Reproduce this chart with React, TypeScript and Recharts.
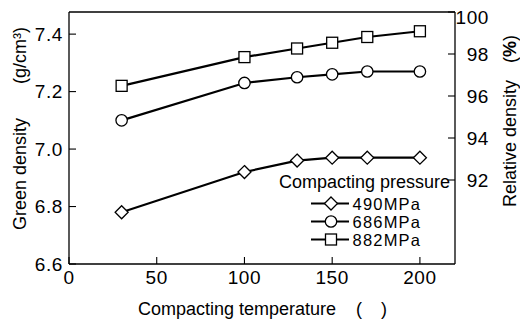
import React from 'react';
import { LineChart, Line, XAxis, YAxis, Legend, Label } from 'recharts';

const temperatures = [30, 100, 130, 150, 170, 200];
const density490 = [6.78, 6.92, 6.96, 6.97, 6.97, 6.97];
const density686 = [7.10, 7.23, 7.25, 7.26, 7.27, 7.27];
const density882 = [7.22, 7.32, 7.35, 7.37, 7.39, 7.41];
const xTicks = [0, 50, 100, 150, 200];
const leftTicks = [6.6, 6.8, 7.0, 7.2, 7.4];
const rightTicks = [92, 94, 96, 98, 100];
const seriesNames = ['490MPa', '686MPa', '882MPa'];
const legendTitle = 'Compacting pressure';

const FONT = '"Liberation Sans", Arial, sans-serif';

const data = temperatures.map((t, i) => ({
  t,
  p490: density490[i],
  p686: density686[i],
  p882: density882[i],
}));

const series = [
  { key: 'p490', name: seriesNames[0], kind: 'diamond' },
  { key: 'p686', name: seriesNames[1], kind: 'circle' },
  { key: 'p882', name: seriesNames[2], kind: 'square' },
];

const Marker = ({ kind, cx, cy }: { kind: string; cx: number; cy: number }) => {
  if (cx == null || cy == null) return null;
  if (kind === 'diamond')
    return (
      <polygon
        points={`${cx},${cy - 6.5} ${cx + 6.5},${cy} ${cx},${cy + 6.5} ${cx - 6.5},${cy}`}
        fill="#fff"
        stroke="#000"
        strokeWidth={1.3}
      />
    );
  if (kind === 'circle') return <circle cx={cx} cy={cy} r={5.7} fill="#fff" stroke="#000" strokeWidth={1.3} />;
  return <rect x={cx - 5.5} y={cy - 5.5} width={11} height={11} fill="#fff" stroke="#000" strokeWidth={1.3} />;
};

const LegendContent = (props: any) => {
  const payload = props.payload || [];
  return (
    <svg width={190} height={85} style={{ overflow: 'visible', display: 'block' }}>
      <text x={182} y={14} textAnchor="end" dominantBaseline="central" fontSize={18} fontFamily={FONT} fill="#000">
        {legendTitle}
      </text>
      {series.map((s, i) => {
        const entry = payload.find((p: any) => p.dataKey === s.key);
        const y = 35.5 + i * 18;
        return (
          <g key={s.key}>
            <line x1={43} x2={81} y1={y} y2={y} stroke="#000" strokeWidth={2.2} />
            <Marker kind={s.kind} cx={63} cy={y} />
            <text x={84.5} y={y} dominantBaseline="central" fontSize={16.5} letterSpacing={1.2} fontFamily={FONT} fill="#000">
              {entry ? entry.value : s.name}
            </text>
          </g>
        );
      })}
    </svg>
  );
};

const RightTick = (props: any) => {
  const { x, y, payload } = props;
  return (
    <text x={x + 34} y={y} dy="0.36em" textAnchor="end" fontSize={19} letterSpacing={0.6} fontFamily={FONT} fill="#000">
      {payload.value}
    </text>
  );
};

const tickStyle = { fontSize: 19, fill: '#000', fontFamily: FONT, letterSpacing: 0.6 };

export default function App() {
  return (
    <LineChart width={520} height={318} data={data} margin={{ top: 3, right: 0, bottom: 0, left: 0 }}>
      <XAxis
        xAxisId="bottom"
        dataKey="t"
        type="number"
        domain={[0, 220]}
        ticks={xTicks}
        height={62}
        tickSize={-7}
        tickMargin={14}
        tick={tickStyle}
        axisLine={{ stroke: '#000', strokeWidth: 1.3 }}
        tickLine={{ stroke: '#000', strokeWidth: 1.1 }}
      >
        <Label
          content={() => (
            <g fontFamily={FONT} fontSize={18} fill="#000">
              <text x={130} y={301} dominantBaseline="central">Compacting temperature</text>
              <text x={348} y={301} dominantBaseline="central">(</text>
              <text x={373} y={301} dominantBaseline="central">)</text>
            </g>
          )}
        />
      </XAxis>
      <XAxis
        xAxisId="top"
        orientation="top"
        dataKey="t"
        type="number"
        domain={[0, 220]}
        ticks={xTicks}
        height={1}
        tickSize={-7}
        tick={false}
        axisLine={{ stroke: '#000', strokeWidth: 1.3 }}
        tickLine={{ stroke: '#000', strokeWidth: 1.1 }}
      />
      <YAxis
        yAxisId="left"
        type="number"
        domain={[6.6, 7.477]}
        ticks={leftTicks}
        allowDataOverflow
        width={61}
        tickSize={-7}
        tickMargin={13}
        tick={tickStyle}
        tickFormatter={(v: number) => v.toFixed(1)}
        axisLine={{ stroke: '#000', strokeWidth: 1.3 }}
        tickLine={{ stroke: '#000', strokeWidth: 1.1 }}
      >
        <Label
          content={() => (
            <g fontFamily={FONT} fontSize={18} fill="#000">
              <text x={12} y={222} transform="rotate(-90 12 222)" dominantBaseline="central">Green density</text>
              <text x={12} y={76} transform="rotate(-90 12 76)" dominantBaseline="central">(g/cm³)</text>
            </g>
          )}
        />
      </YAxis>
      <YAxis
        yAxisId="right"
        orientation="right"
        type="number"
        domain={[88, 100]}
        ticks={rightTicks}
        allowDataOverflow
        width={73}
        tickSize={-7}
        tickMargin={7}
        tick={<RightTick />}
        axisLine={{ stroke: '#000', strokeWidth: 1.3 }}
        tickLine={{ stroke: '#000', strokeWidth: 1.1 }}
      >
        <Label
          content={() => (
            <g fontFamily={FONT} fontSize={18} fill="#000">
              <text x={502} y={199} transform="rotate(-90 502 199)" dominantBaseline="central">Relative density</text>
              <text x={502} y={55} transform="rotate(-90 502 55)" dominantBaseline="central">
                (<tspan fontWeight="bold">%</tspan>)
              </text>
            </g>
          )}
        />
      </YAxis>
      <Legend
        layout="horizontal"
        verticalAlign="middle"
        align="center"
        content={<LegendContent />}
        wrapperStyle={{ left: 260, top: 160, width: 190, height: 85 }}
      />
      {series.map((s) => (
        <Line
          key={s.key}
          xAxisId="bottom"
          yAxisId="left"
          dataKey={s.key}
          name={s.name}
          stroke="#000"
          strokeWidth={2.2}
          isAnimationActive={false}
          dot={(p: any) => <Marker key={`${s.key}-${p.index}`} kind={s.kind} cx={p.cx} cy={p.cy} />}
          activeDot={false}
        />
      ))}
    </LineChart>
  );
}
